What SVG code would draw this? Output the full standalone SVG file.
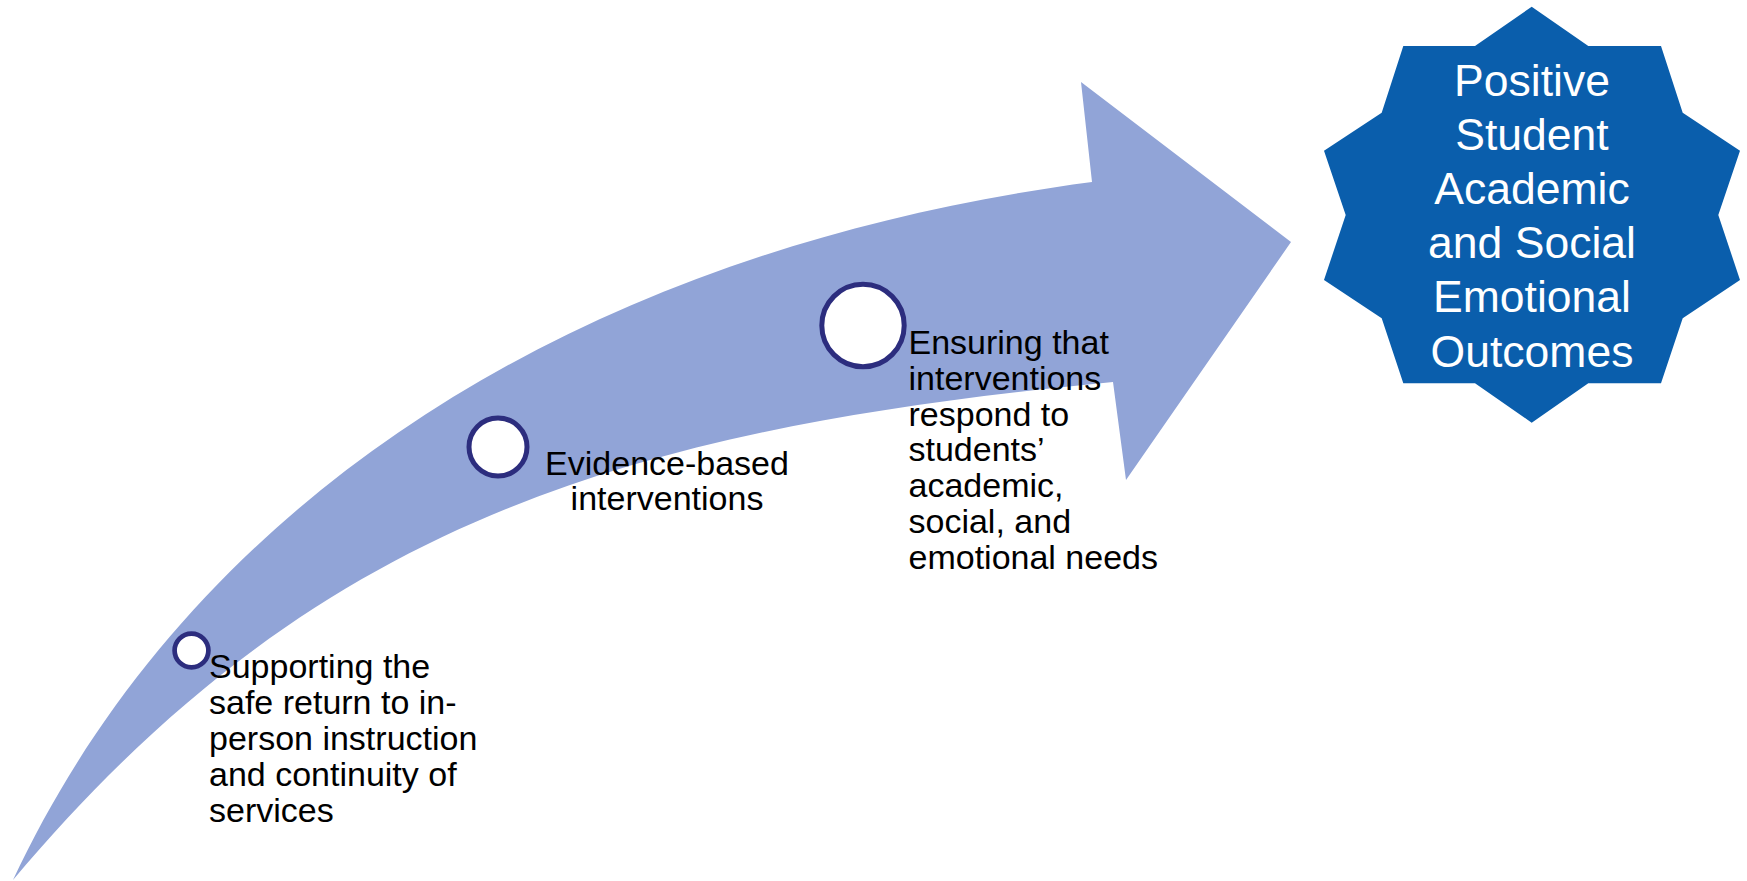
<svg xmlns="http://www.w3.org/2000/svg" width="1747" height="881" viewBox="0 0 1747 881">
<style>
.lbl{font-family:"Liberation Sans",Arial,sans-serif;font-size:34px;fill:#000}
.star{font-family:"Liberation Sans",Arial,sans-serif;font-size:44.5px;fill:#fff;text-anchor:middle}
.dot{fill:#fff;stroke:#2C2D7E}
</style>
<rect width="1747" height="881" fill="#fff"/>
<g id="connectors">
<path id="arrow" d="M13,880 C191,500 577,250 1092,182 L1081,82 L1291,242 L1126,480 L1113,382 C616,429 309,528 13,880 Z" fill="#91A4D7"/>
</g>
<g id="step1">
<circle class="dot" cx="191.5" cy="650.5" r="16.9" stroke-width="4.7"/>
<text class="lbl" x="209" y="678.3">Supporting the<tspan x="209" dy="35.8">safe return to in-</tspan><tspan x="209" dy="35.8">person instruction</tspan><tspan x="209" dy="35.8">and continuity of</tspan><tspan x="209" dy="35.8">services</tspan></text>
</g>
<g id="step2">
<circle class="dot" cx="498" cy="447" r="29" stroke-width="5"/>
<text class="lbl" x="667" y="474.5" text-anchor="middle">Evidence-based<tspan x="667" dy="35.8">interventions</tspan></text>
</g>
<g id="step3">
<circle class="dot" cx="863" cy="325.5" r="41.2" stroke-width="5"/>
<text class="lbl" x="908.5" y="354">Ensuring that<tspan x="908.5" dy="35.75">interventions</tspan><tspan x="908.5" dy="35.75">respond to</tspan><tspan x="908.5" dy="35.75">students’</tspan><tspan x="908.5" dy="35.75">academic,</tspan><tspan x="908.5" dy="35.75">social, and</tspan><tspan x="908.5" dy="35.75">emotional needs</tspan></text>
</g>
<g id="outcome">
<polygon fill="#0A5EAC" points="1531.7,6.7 1588.3,46 1661,46 1682.7,112.7 1740,150.7 1718.3,215 1740,280 1682.7,318.3 1661,383.3 1588.3,383.3 1531.7,422.7 1475,383.3 1403.3,383.3 1381.7,318.3 1324,280 1345.7,215 1324,150.7 1381.7,112.7 1403.3,46 1475,46"/>
<text class="star" x="1532" y="96">Positive<tspan x="1532" dy="54.1">Student</tspan><tspan x="1532" dy="54.1">Academic</tspan><tspan x="1532" dy="54.1">and Social</tspan><tspan x="1532" dy="54.1">Emotional</tspan><tspan x="1532" dy="54.1">Outcomes</tspan></text>
</g>
</svg>
